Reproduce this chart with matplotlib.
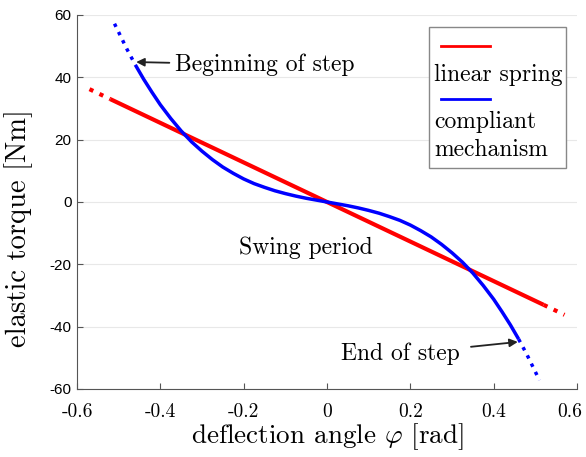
import matplotlib.pyplot as plt
from matplotlib.patches import Rectangle
from matplotlib.lines import Line2D
from matplotlib.transforms import ScaledTranslation

plt.rcParams['mathtext.fontset'] = 'cm'
plt.rcParams['axes.unicode_minus'] = False

# linear spring: solid inside the step range, dotted outside
spring_x = [-0.52, 0.0, 0.52]
spring_y = [33.0, 0.0, -33.0]
spring_left_x = [-0.57, -0.52]
spring_left_y = [36.2, 33.0]
spring_right_x = [0.52, 0.57]
spring_right_y = [-33.0, -36.2]

# compliant mechanism torque curve
mech_x = [-0.46, -0.44, -0.42, -0.40, -0.375, -0.35, -0.325, -0.30, -0.275, -0.25,
          -0.225, -0.20, -0.175, -0.15, -0.125, -0.10, -0.075, -0.05, -0.025, 0.0,
          0.025, 0.05, 0.075, 0.10, 0.125, 0.15, 0.175, 0.20, 0.225, 0.25,
          0.275, 0.30, 0.325, 0.35, 0.375, 0.40, 0.42, 0.44, 0.46]
mech_y = [44.0, 39.4, 35.2, 31.2, 26.8, 22.8, 19.3, 16.3, 13.6, 11.2,
          9.2, 7.4, 5.9, 4.7, 3.6, 2.7, 1.9, 1.2, 0.6, 0.0,
          -0.6, -1.2, -1.9, -2.7, -3.6, -4.7, -5.9, -7.4, -9.2, -11.2,
          -13.6, -16.3, -19.3, -22.8, -26.8, -31.2, -35.2, -39.4, -44.0]
mech_left_x = [-0.51, -0.495, -0.48, -0.46]
mech_left_y = [57.2, 53.1, 49.0, 44.0]
mech_right_x = [0.46, 0.48, 0.495, 0.51]
mech_right_y = [-44.0, -49.0, -53.1, -57.2]

x_ticks = [-0.6, -0.4, -0.2, 0, 0.2, 0.4, 0.6]
x_tick_labels = ['-0.6', '-0.4', '-0.2', '0', '0.2', '0.4', '0.6']
y_ticks = [-60, -40, -20, 0, 20, 40, 60]

serif = 'cmr10'
red = '#ff0000'
blue = '#0000ff'

fig = plt.figure(figsize=(5.86, 4.57), dpi=100)
ax = fig.add_axes([0.1314, 0.1488, 0.8532, 0.8184])

ax.plot(spring_x, spring_y, color=red, lw=3.0, solid_capstyle='butt', zorder=3)
ax.plot(spring_left_x, spring_left_y, color=red, lw=3.0, ls=':', zorder=3)
ax.plot(spring_right_x, spring_right_y, color=red, lw=3.0, ls=':', zorder=3)
ax.plot(mech_x, mech_y, color=blue, lw=2.5, solid_capstyle='butt', zorder=4)
ax.plot(mech_left_x, mech_left_y, color=blue, lw=2.5, ls=':', zorder=4)
ax.plot(mech_right_x, mech_right_y, color=blue, lw=2.5, ls=':', zorder=4)

ax.set_xlim(-0.6, 0.6)
ax.set_ylim(-60, 60)
ax.set_xticks(x_ticks)
ax.set_xticklabels(x_tick_labels, fontfamily=serif, fontsize=14)
ax.set_yticks(y_ticks)
ax.set_yticklabels([str(v) for v in y_ticks], fontfamily='Liberation Sans', fontsize=11)
ax.tick_params(direction='in', length=4, color='#555555')
ax.tick_params(axis='y', pad=4)
ax.tick_params(axis='x', pad=10)
# pull the last x label in a little so it stays on the canvas
last = ax.get_xticklabels()[-1]
last.set_transform(last.get_transform() + ScaledTranslation(-5 / 72, 0, fig.dpi_scale_trans))
for side in ['top', 'right']:
    ax.spines[side].set_visible(False)
for side in ['left', 'bottom']:
    ax.spines[side].set_color('#555555')
ax.grid(axis='y', color='#e8e8e8', lw=0.8)
ax.set_axisbelow(True)

ax.set_xlabel(r'deflection angle $\varphi$ [rad]', fontfamily=serif, fontsize=19.5, labelpad=0)
ax.set_ylabel('elastic torque [Nm]', fontfamily=serif, fontsize=20.5)
ax.yaxis.set_label_coords(-0.088, 0.43)

# annotations
ax.annotate('Beginning of step', xy=(-0.458, 44.9), xytext=(-0.365, 44),
            fontfamily=serif, fontsize=17, va='center', ha='left',
            arrowprops=dict(arrowstyle='-|>', color='#222222', lw=1.3,
                            mutation_scale=12, shrinkA=2, shrinkB=0))
ax.annotate('End of step', xy=(0.458, -44.9), xytext=(0.034, -48.8),
            fontfamily=serif, fontsize=17, va='center', ha='left',
            arrowprops=dict(arrowstyle='-|>', color='#222222', lw=1.3,
                            mutation_scale=12, shrinkA=6, shrinkB=0))
ax.text(-0.211, -14.8, 'Swing period', fontfamily=serif, fontsize=17,
        va='center', ha='left')

# legend with the line sample above each label
box = Rectangle((0.704, 0.592), 0.274, 0.376, transform=ax.transAxes,
                facecolor='white', edgecolor='#888888', lw=1.0, zorder=5)
ax.add_patch(box)
ax.add_line(Line2D([0.728, 0.826], [0.917, 0.917], transform=ax.transAxes,
                   color=red, lw=2.0, zorder=6))
ax.text(0.714, 0.84, 'linear spring', transform=ax.transAxes, fontfamily=serif,
        fontsize=17, va='center', ha='left', zorder=6)
ax.add_line(Line2D([0.728, 0.826], [0.775, 0.775], transform=ax.transAxes,
                   color=blue, lw=2.0, zorder=6))
ax.text(0.714, 0.714, 'compliant', transform=ax.transAxes, fontfamily=serif,
        fontsize=17, va='center', ha='left', zorder=6)
ax.text(0.714, 0.639, 'mechanism', transform=ax.transAxes, fontfamily=serif,
        fontsize=17, va='center', ha='left', zorder=6)

fig.savefig('out.png', dpi=100)
